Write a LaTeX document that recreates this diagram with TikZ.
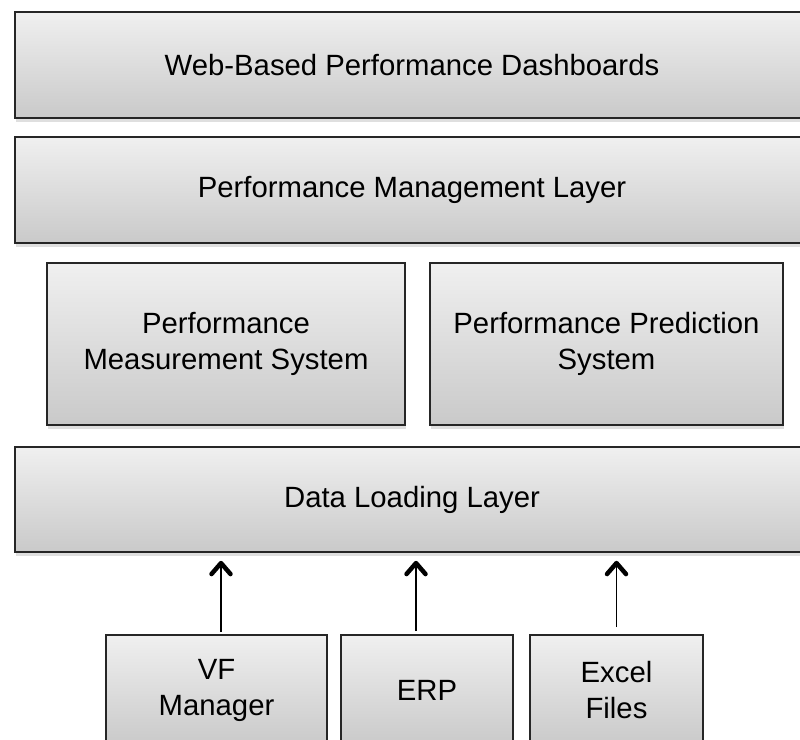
\documentclass[tikz,border=0pt]{standalone}
\usepackage{fontspec}
\setmainfont{Liberation Sans}
\usetikzlibrary{arrows.meta,shadows}
\tikzset{
  layer/.style={draw=black!85, line width=1.6pt, top color=black!6, bottom color=black!21,
    drop shadow={opacity=0.25, shadow xshift=1pt, shadow yshift=-4pt},
    align=center, inner sep=0pt, font=\fontsize{29.3}{36}\selectfont},
  feed/.style={line width=1.8pt, -{Straight Barb[length=11pt,width=19pt,line width=4.5pt 0 1,round]}}
}
\begin{document}
\begin{tikzpicture}[x=1pt,y=-1pt]
      \useasboundingbox (0,0) rectangle (800,739);
      \clip (0,0) rectangle (800,739);
      \node[layer, minimum width=794, minimum height=106] (web) at (412,65) {Web-Based Performance Dashboards};
      \node[layer, minimum width=794, minimum height=106] (pml) at (412,190) {Performance Management Layer};
      \node[layer, minimum width=358, minimum height=162] (pms) at (226,344) {Performance\\Measurement System};
      \node[layer, minimum width=353, minimum height=162] (pps) at (606.5,344) {Performance Prediction\\System};
      \node[layer, minimum width=794, minimum height=105] (dll) at (412,499.5) {Data Loading Layer};
      \node[layer, minimum width=221, minimum height=110] (vf) at (216.5,690) {VF\\Manager};
      \node[layer, minimum width=172, minimum height=110] (erp) at (427,690) {ERP};
      \node[layer, minimum width=173, minimum height=110] (excel) at (616.5,690) {Excel\\Files};
      \begin{scope}[feed]
        \draw ([xshift=4.5pt,yshift=2pt]vf.north) -- ([xshift=4.5pt,yshift=-8pt]vf.north |- dll.south);
        \draw ([xshift=-11pt,yshift=3pt]erp.north) -- ([xshift=-11pt,yshift=-8pt]erp.north |- dll.south);
        \draw ([yshift=7pt]excel.north) -- ([yshift=-8pt]excel.north |- dll.south);
      \end{scope}
    \end{tikzpicture}
\end{document}
